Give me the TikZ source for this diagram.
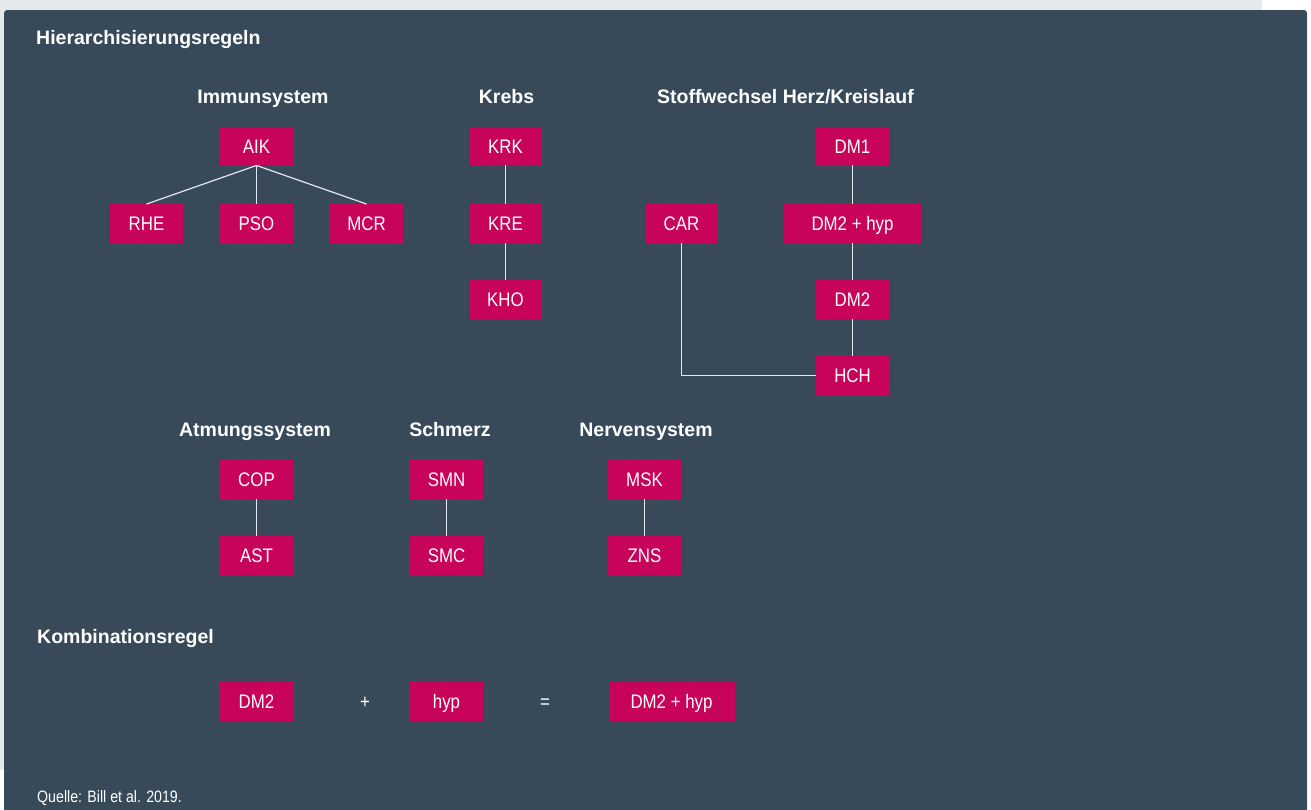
\documentclass[tikz,border=0pt]{standalone}
\usepackage{fontspec}
\setmainfont{Liberation Sans}
\newfontfamily\boxfont{Liberation Sans}[FakeStretch=0.86]
\newfontfamily\headfont{Liberation Sans Bold}
\definecolor{panel}{HTML}{384A5A}
\definecolor{boxred}{HTML}{C8035A}
\definecolor{topgray}{HTML}{E6E9EC}
\definecolor{linecol}{HTML}{E4E8EC}
\tikzset{
  catbox/.style={fill=boxred, text=white, minimum width=73pt, minimum height=38.5pt, inner sep=0pt, text height=14pt, text depth=0pt, font=\boxfont\fontsize{19.6}{22}\selectfont},
  head/.style={text=white, inner sep=0pt, text height=14.2pt, text depth=0pt, font=\headfont\fontsize{19.5}{23}\selectfont},
  op/.style={text=white, inner sep=0pt, text height=14pt, text depth=0pt, font=\boxfont\fontsize{19.6}{22}\selectfont},
  conn/.style={draw=linecol, line width=1.2pt}
}
\begin{document}
\begin{tikzpicture}[x=1pt,y=-1pt]
\useasboundingbox (0,0) rectangle (1311,809);
\fill[white] (0,0) rectangle (1311,809);
\fill[topgray] (0,0) rectangle (1262,10);
\fill[topgray] (0,0) rectangle (4,770);
\fill[panel, rounded corners=3pt] (4,10) rectangle (1307,812);
% headings
\node[head, anchor=west] (h1) at (36,37) {Hierarchisierungsregeln};
\node[head] (t1) at (263,96.7) {Immunsystem};
\node[head] (t2) at (506.5,96.7) {Krebs};
\node[head] (t3) at (785.5,96.7) {Stoffwechsel Herz/Kreislauf};
\node[head] (t4) at (255,429.7) {Atmungssystem};
\node[head] (t5) at (450,429.7) {Schmerz};
\node[head] (t6) at (646,429.7) {Nervensystem};
\node[head, anchor=west] (h2) at (37,636.7) {Kombinationsregel};
\node[text=white, inner sep=0pt, anchor=west, text height=12pt, text depth=0pt, font=\boxfont\fontsize{16.5}{19}\selectfont] (src) at (37,796.7) {Quelle: Bill et al. 2019.};
% Immunsystem
\node[catbox] (aik) at (256.5,146) {AIK};
\node[catbox] (rhe) at (146.5,223.5) {RHE};
\node[catbox] (pso) at (256.5,223.5) {PSO};
\node[catbox] (mcr) at (366.5,223.5) {MCR};
\draw[conn] (aik.south) -- (rhe.north);
\draw[conn] (aik.south) -- (pso.north);
\draw[conn] (aik.south) -- (mcr.north);
% Krebs
\node[catbox] (krk) at (505.5,146) {KRK};
\node[catbox] (kre) at (505.5,223.5) {KRE};
\node[catbox] (kho) at (505.5,299.5) {KHO};
\draw[conn] (krk) -- (kre);
\draw[conn] (kre) -- (kho);
% Stoffwechsel
\node[catbox] (dm1) at (852.5,146) {DM1};
\node[catbox] (car) at (681.5,223.5) {CAR};
\node[catbox, minimum width=137pt] (dmh) at (852.5,223.5) {DM2 + hyp};
\node[catbox] (dm2) at (852.5,299.5) {DM2};
\node[catbox] (hch) at (852.5,375.5) {HCH};
\draw[conn] (dm1) -- (dmh);
\draw[conn] (dmh) -- (dm2);
\draw[conn] (dm2) -- (hch);
\draw[conn] (car.south) |- (hch.west);
% Atmung
\node[catbox] (cop) at (256.5,479.5) {COP};
\node[catbox] (ast) at (256.5,555.5) {AST};
\draw[conn] (cop) -- (ast);
% Schmerz
\node[catbox] (smn) at (446.5,479.5) {SMN};
\node[catbox] (smc) at (446.5,555.5) {SMC};
\draw[conn] (smn) -- (smc);
% Nerven
\node[catbox] (msk) at (644.5,479.5) {MSK};
\node[catbox] (zns) at (644.5,555.5) {ZNS};
\draw[conn] (msk) -- (zns);
% Kombination
\node[catbox] (c1) at (256.5,701.5) {DM2};
\node[op] (plus) at (365,701.5) {+};
\node[catbox] (c2) at (446.5,701.5) {hyp};
\node[op] (eq) at (545,701.5) {=};
\node[catbox, minimum width=126pt] (c3) at (671.5,701.5) {DM2 + hyp};
\end{tikzpicture}
\end{document}
